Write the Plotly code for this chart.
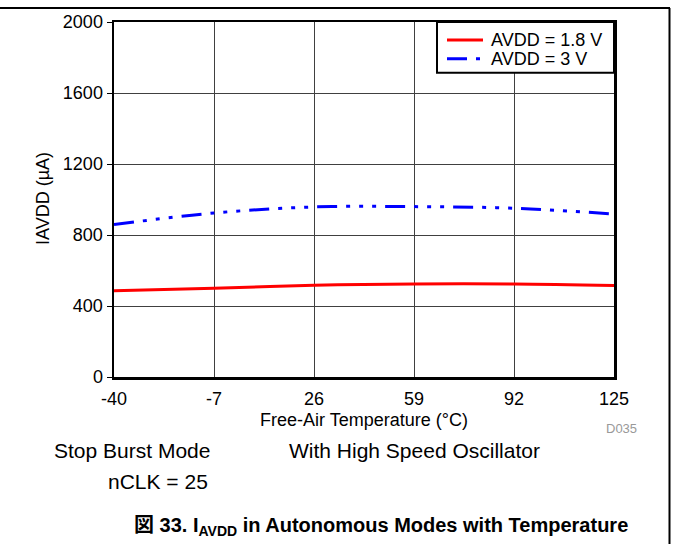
import plotly.graph_objects as go

temps = [-40, -7, 26, 59, 92, 125]
avdd_18 = [486, 500, 517, 524, 524, 515]
avdd_3 = [859, 924, 958, 960, 951, 918]
series_names = ["AVDD = 1.8 V", "AVDD = 3 V"]
x_ticks = [-40, -7, 26, 59, 92, 125]
y_ticks = [0, 400, 800, 1200, 1600, 2000]

FONT = "Liberation Sans, Arial, Noto Sans CJK JP, sans-serif"

W, H = 674, 544
L, R, T, B = 114, 60, 20, 167
pw, ph = W - L - R, H - T - B

def px(xpage):
    return (xpage - L) / pw

def py(ypage):
    return (H - B - ypage) / ph

RED = "#ff0000"
BLUE = "#0000ff"
DASH = "20px,9px,4px,9px,4px,9px,4px,9px"

fig = go.Figure()
fig.add_trace(go.Scatter(
    x=temps, y=avdd_18, mode="lines", name=series_names[0],
    line=dict(color=RED, width=3, shape="spline"),
))
fig.add_trace(go.Scatter(
    x=temps, y=avdd_3, mode="lines", name=series_names[1],
    line=dict(color=BLUE, width=3, shape="spline", dash=DASH),
))

fig.update_layout(
    width=W, height=H,
    margin=dict(l=L, r=R, t=T, b=B),
    paper_bgcolor="white", plot_bgcolor="white",
    font=dict(family=FONT, size=18, color="black"),
    showlegend=False,
    xaxis=dict(range=[-40, 125], tickvals=x_ticks, ticktext=[str(v) for v in x_ticks],
               showgrid=True, gridcolor="#404040", gridwidth=1,
               showline=True, linecolor="black", linewidth=2.5, mirror=True,
               ticks="", ticklabelstandoff=4, zeroline=False,
               tickfont=dict(size=18)),
    yaxis=dict(range=[0, 2000], tickvals=y_ticks, ticktext=[str(v) for v in y_ticks],
               showgrid=True, gridcolor="#404040", gridwidth=1,
               showline=True, linecolor="black", linewidth=2.5, mirror=True,
               ticks="outside", ticklen=5, tickwidth=1, tickcolor="black",
               zeroline=False, tickfont=dict(size=18)),
)

row_y = [38, 57]
shapes = [
    # page frame lines
    dict(type="line", xref="paper", yref="paper", x0=px(0), x1=px(670), y0=py(6), y1=py(6),
         line=dict(color="black", width=2)),
    dict(type="line", xref="paper", yref="paper", x0=px(669.5), x1=px(669.5), y0=py(6), y1=py(560),
         line=dict(color="black", width=2)),
    # legend box
    dict(type="rect", xref="paper", yref="paper", x0=px(437), x1=px(614), y0=py(71), y1=py(20),
         fillcolor="white", line=dict(color="black", width=2), layer="above"),
    dict(type="line", xref="paper", yref="paper", x0=px(447), x1=px(483), y0=py(row_y[0]), y1=py(row_y[0]),
         line=dict(color=RED, width=3), layer="above"),
    dict(type="line", xref="paper", yref="paper", x0=px(447), x1=px(483), y0=py(row_y[1]), y1=py(row_y[1]),
         line=dict(color=BLUE, width=3, dash=DASH), layer="above"),
]
fig.update_layout(shapes=shapes)

ann = [
    dict(text=series_names[0], x=px(489), y=py(row_y[0]), xanchor="left", yanchor="middle",
         font=dict(size=18)),
    dict(text=series_names[1], x=px(489), y=py(row_y[1]), xanchor="left", yanchor="middle",
         font=dict(size=18)),
    dict(text="Free-Air Temperature (°C)", x=px(364), y=py(420), xanchor="center", yanchor="middle",
         font=dict(size=18)),
    dict(text="IAVDD (µA)", x=px(43), y=py(198), xanchor="center", yanchor="middle",
         textangle=-90, font=dict(size=18)),
    dict(text="D035", x=px(621), y=py(429), xanchor="center", yanchor="middle",
         font=dict(size=13, color="#999999")),
    dict(text="Stop Burst Mode", x=px(52), y=py(451), xanchor="left", yanchor="middle",
         font=dict(size=21)),
    dict(text="With High Speed Oscillator", x=px(287), y=py(451), xanchor="left", yanchor="middle",
         font=dict(size=21)),
    dict(text="nCLK = 25", x=px(210), y=py(482), xanchor="right", yanchor="middle",
         font=dict(size=21)),
    dict(text="<b>図 33. I<sub>AVDD</sub> in Autonomous Modes with Temperature</b>",
         x=px(132), y=py(527), xanchor="left", yanchor="middle",
         font=dict(size=20)),
]
for a in ann:
    a.update(xref="paper", yref="paper", showarrow=False)
fig.update_layout(annotations=ann)

fig.write_html("out.html", config={"displayModeBar": False, "staticPlot": True},
               post_script="document.body.style.margin='0';")
